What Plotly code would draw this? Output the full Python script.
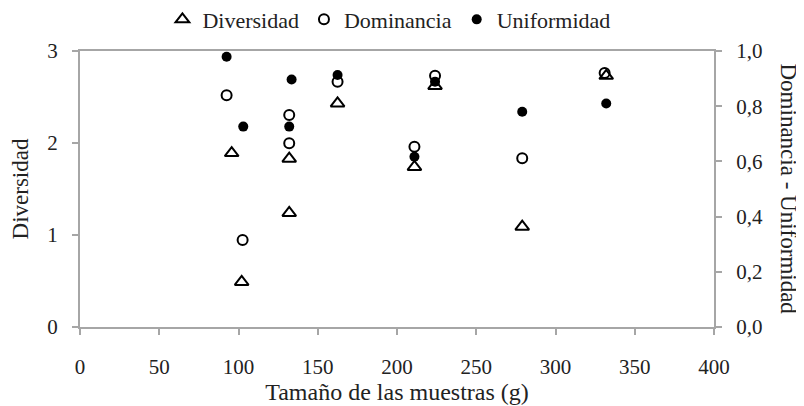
import plotly.graph_objects as go

# Data
div_x = [95.7, 102, 132, 132, 162.5, 211, 224, 279, 332]
div_y = [1.89, 0.49, 1.83, 1.24, 2.43, 1.74, 2.62, 1.09, 2.73]

dom_x = [92.5, 102.6, 132, 132, 162.5, 211, 224, 279, 331]
dom_y = [0.84, 0.315, 0.768, 0.666, 0.889, 0.653, 0.91, 0.611, 0.92]

uni_x = [92.5, 103, 133.5, 132, 162.5, 211, 224, 279, 332]
uni_y = [0.979, 0.726, 0.897, 0.726, 0.913, 0.617, 0.889, 0.78, 0.81]

x_ticks = [0, 50, 100, 150, 200, 250, 300, 350, 400]
y_ticks = [0, 1, 2, 3]
y2_ticks = [0.0, 0.2, 0.4, 0.6, 0.8, 1.0]
y2_labels = ["0,0", "0,2", "0,4", "0,6", "0,8", "1,0"]

FONT = "Liberation Serif, Times New Roman, serif"
TXT = "#222222"
AX = "#a6a6a6"

fig = go.Figure()
fig.add_trace(go.Scatter(
    x=div_x, y=div_y, mode="markers", name="Diversidad",
    marker=dict(symbol="triangle-up-open", size=12, color="black", line=dict(width=2, color="black")),
    yaxis="y"))
fig.add_trace(go.Scatter(
    x=dom_x, y=dom_y, mode="markers", name="Dominancia",
    marker=dict(symbol="circle-open", size=10, color="black", line=dict(width=2, color="black")),
    yaxis="y2"))
fig.add_trace(go.Scatter(
    x=uni_x, y=uni_y, mode="markers", name="Uniformidad",
    marker=dict(symbol="circle", size=10, color="black", line=dict(width=0)),
    yaxis="y2"))

axis_common = dict(showgrid=False, zeroline=False, showline=True, linecolor=AX, linewidth=2,
                   ticks="outside", ticklen=6, tickwidth=2, tickcolor=AX, automargin=False,
                   tickfont=dict(family=FONT, size=21, color=TXT))

fig.update_layout(
    width=796, height=398,
    margin=dict(l=72, r=90, t=43, b=79, autoexpand=False),
    paper_bgcolor="white", plot_bgcolor="white",
    font=dict(family=FONT, color=TXT),
    showlegend=True,
    legend=dict(orientation="h", x=0.13, xanchor="left", y=1.19, yanchor="top",
                font=dict(family=FONT, size=22, color=TXT), bgcolor="rgba(0,0,0,0)",
                itemwidth=30, tracegroupgap=0),
    xaxis=dict(range=[0, 400], tickvals=x_ticks, mirror=True, ticklabelstandoff=14,
               title=dict(text="Tamaño de las muestras (g)", font=dict(family=FONT, size=24, color=TXT), standoff=3),
               **axis_common),
    yaxis=dict(range=[0, 3], tickvals=y_ticks, ticklabelstandoff=10,
               title=dict(text="Diversidad", font=dict(family=FONT, size=23, color=TXT), standoff=13),
               **axis_common),
    yaxis2=dict(range=[0, 1], tickvals=y2_ticks, ticktext=y2_labels, overlaying="y", side="right",
                ticklabelstandoff=10, **axis_common),
)

fig.add_annotation(text="Dominancia - Uniformidad", xref="paper", yref="paper",
                   x=1.0, xshift=89, y=0.5, textangle=90, showarrow=False,
                   font=dict(family=FONT, size=23, color=TXT))

fig.write_html("out.html")
